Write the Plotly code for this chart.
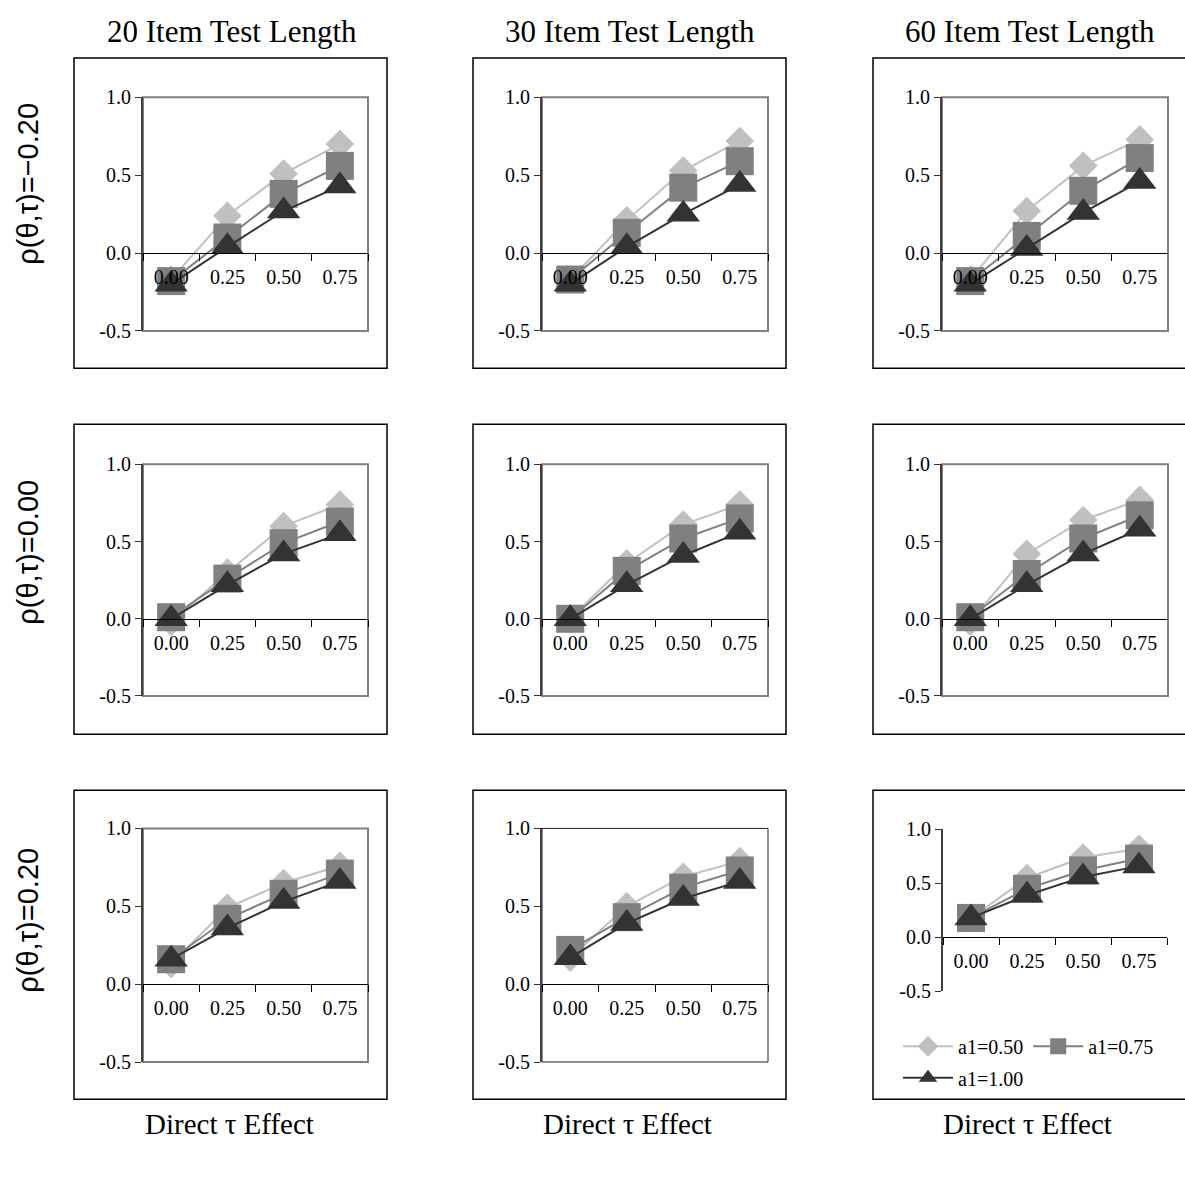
import plotly.graph_objects as go

# ---------------- data ----------------
CATEGORIES = ["0.00", "0.25", "0.50", "0.75"]
SERIES_NAMES = ["a1=0.50", "a1=0.75", "a1=1.00"]
COL_TITLES = ["20 Item Test Length", "30 Item Test Length", "60 Item Test Length"]
ROW_TITLES = ["ρ(θ,τ)=−0.20", "ρ(θ,τ)=0.00", "ρ(θ,τ)=0.20"]
X_TITLE = "Direct τ Effect"
Y_TICKVALS = [-0.5, 0.0, 0.5, 1.0]
Y_TICKTEXT = ["-0.5", "0.0", "0.5", "1.0"]

# row 1: rho = -0.20
r1c1_a050 = [-0.17, 0.24, 0.51, 0.70]
r1c1_a075 = [-0.18, 0.10, 0.38, 0.56]
r1c1_a100 = [-0.20, 0.04, 0.27, 0.43]
r1c2_a050 = [-0.17, 0.21, 0.53, 0.72]
r1c2_a075 = [-0.17, 0.13, 0.42, 0.59]
r1c2_a100 = [-0.20, 0.04, 0.25, 0.44]
r1c3_a050 = [-0.17, 0.27, 0.56, 0.73]
r1c3_a075 = [-0.18, 0.11, 0.40, 0.61]
r1c3_a100 = [-0.20, 0.03, 0.26, 0.46]
# row 2: rho = 0.00
r2c1_a050 = [-0.02, 0.30, 0.60, 0.74]
r2c1_a075 = [0.01, 0.26, 0.49, 0.63]
r2c1_a100 = [0.00, 0.22, 0.42, 0.55]
r2c2_a050 = [0.00, 0.36, 0.61, 0.74]
r2c2_a075 = [0.00, 0.31, 0.52, 0.65]
r2c2_a100 = [0.00, 0.22, 0.41, 0.56]
r2c3_a050 = [-0.02, 0.42, 0.64, 0.77]
r2c3_a075 = [0.01, 0.29, 0.52, 0.67]
r2c3_a100 = [0.00, 0.22, 0.42, 0.58]
# row 3: rho = 0.20
r3c1_a050 = [0.13, 0.49, 0.65, 0.76]
r3c1_a075 = [0.16, 0.42, 0.58, 0.71]
r3c1_a100 = [0.16, 0.36, 0.53, 0.66]
r3c2_a050 = [0.17, 0.50, 0.69, 0.79]
r3c2_a075 = [0.22, 0.43, 0.62, 0.73]
r3c2_a100 = [0.17, 0.39, 0.55, 0.66]
r3c3_a050 = [0.18, 0.55, 0.74, 0.82]
r3c3_a075 = [0.18, 0.45, 0.62, 0.73]
r3c3_a100 = [0.18, 0.39, 0.56, 0.66]

PANELS = [
    [[r1c1_a050, r1c1_a075, r1c1_a100], [r1c2_a050, r1c2_a075, r1c2_a100], [r1c3_a050, r1c3_a075, r1c3_a100]],
    [[r2c1_a050, r2c1_a075, r2c1_a100], [r2c2_a050, r2c2_a075, r2c2_a100], [r2c3_a050, r2c3_a075, r2c3_a100]],
    [[r3c1_a050, r3c1_a075, r3c1_a100], [r3c2_a050, r3c2_a075, r3c2_a100], [r3c3_a050, r3c3_a075, r3c3_a100]],
]

# ---------------- styling / layout ----------------
W, H = 1185, 1178
SERIF = "Liberation Serif, Times New Roman, serif"
SANS = "Liberation Sans, Arial, sans-serif"
COLORS = ["#C0C0C0", "#808080", "#333333"]
SYMBOLS = ["diamond", "square", "triangle-up"]
SIZES = [22, 28, 29]

PLOT_X = [(143, 368), (542, 768), (942, 1168)]
PLOT_Y = [(88, 326), (462, 698), (833, 1071)]
OUTER_X = [(74, 387), (473, 786), (873, 1192)]
OUTER_Y = [(48, 364), (421, 737), (794, 1109)]
SPECIAL_PLOT = {(2, 2): ((943, 1167), (834, 999))}
FRAME_STYLE = {(2, 1): ("#222222", 1)}


def fx(p):
    return p / W


def fy(p):
    return 1 - p / H


fig = go.Figure()
layout = dict(
    width=W, height=H, margin=dict(l=0, r=0, t=0, b=0),
    paper_bgcolor="white", plot_bgcolor="rgba(0,0,0,0)",
    showlegend=True, font=dict(family=SERIF, color="black", size=20),
)
shapes = []
annotations = []

for r in range(3):
    for c in range(3):
        k = r * 3 + c
        sfx = "" if k == 0 else str(k + 1)
        xa, ya = "x" + sfx, "y" + sfx
        (px0, px1), (py0, py1) = SPECIAL_PLOT.get((r, c), (PLOT_X[c], PLOT_Y[r]))
        dom_x = [fx(px0), fx(px1)]
        dom_y = [fy(py1), fy(py0)]
        zero_pos = dom_y[0] + (0 - (-0.5)) / 1.5 * (dom_y[1] - dom_y[0])

        for s in range(3):
            fig.add_trace(go.Scatter(
                x=CATEGORIES, y=PANELS[r][c][s], mode="lines+markers",
                name=SERIES_NAMES[s],
                line=dict(color=COLORS[s], width=2),
                marker=dict(symbol=SYMBOLS[s], size=SIZES[s], color=COLORS[s], line=dict(width=0)),
                xaxis=xa, yaxis=ya, cliponaxis=False,
                showlegend=(k == 8),
                legend="legend" if s < 2 else "legend2",
                hoverinfo="skip",
            ))

        layout["xaxis" + sfx] = dict(
            domain=dom_x, anchor="free", position=zero_pos, type="category",
            categoryorder="array", categoryarray=CATEGORIES,
            range=[-0.5, 3.5], tickson="boundaries", ticks="outside", ticklen=7,
            tickcolor="black", tickwidth=1, showline=True, linecolor="black", linewidth=1,
            showgrid=False, zeroline=False, ticklabelstandoff=6,
            tickfont=dict(family=SERIF, size=20, color="black"),
        )
        layout["yaxis" + sfx] = dict(
            domain=dom_y, anchor=xa, range=[-0.5, 1.0],
            tickvals=Y_TICKVALS, ticktext=Y_TICKTEXT,
            ticks="outside", ticklen=6, tickcolor="#333333", tickwidth=1,
            showline=True, linecolor="#404040", linewidth=2,
            showgrid=False, zeroline=False,
            tickfont=dict(family=SERIF, size=20, color="black"),
        )

        # outer chart box
        ox0, ox1 = OUTER_X[c]
        oy0, oy1 = OUTER_Y[r]
        shapes.append(dict(type="rect", xref="paper", yref="paper",
                           x0=fx(ox0), x1=fx(ox1), y0=fy(oy1), y1=fy(oy0),
                           line=dict(color="black", width=1.5), layer="below"))
        # plot area frame
        if (r, c) != (2, 2):
            fcol, fw = FRAME_STYLE.get((r, c), ("#808080", 2))
            shapes.append(dict(type="rect", xref=xa + " domain", yref=ya + " domain",
                               x0=0, x1=1, y0=0, y1=1,
                               line=dict(color=fcol, width=fw), layer="below"))

# column titles and bottom titles
COL_CENTERS = [232, 630, 1030]
for c in range(3):
    annotations.append(dict(text=COL_TITLES[c], x=fx(COL_CENTERS[c]), y=fy(21),
                            xref="paper", yref="paper", showarrow=False,
                            xanchor="center", yanchor="middle",
                            font=dict(family=SERIF, size=31, color="black")))
    annotations.append(dict(text=X_TITLE, x=fx(COL_CENTERS[c] - 3), y=fy(1134),
                            xref="paper", yref="paper", showarrow=False,
                            xanchor="center", yanchor="middle",
                            font=dict(family=SERIF, size=29, color="black")))

ROW_CENTERS = [176, 552, 927]
for r in range(3):
    annotations.append(dict(text=ROW_TITLES[r], x=fx(28), y=fy(ROW_CENTERS[r]),
                            xref="paper", yref="paper", showarrow=False,
                            xanchor="center", yanchor="middle", textangle=-90,
                            font=dict(family=SANS, size=29, color="black")))

layout["shapes"] = shapes
layout["annotations"] = annotations
layout["legend"] = dict(orientation="h", x=fx(898), y=fy(1055), xanchor="left", yanchor="middle",
                        bgcolor="rgba(0,0,0,0)", itemwidth=50, tracegroupgap=0,
                        font=dict(family=SERIF, size=20, color="black"))
layout["legend2"] = dict(orientation="h", x=fx(898), y=fy(1087), xanchor="left", yanchor="middle",
                         bgcolor="rgba(0,0,0,0)", itemwidth=50, tracegroupgap=0,
                         font=dict(family=SERIF, size=20, color="black"))

fig.update_layout(**layout)
fig.write_html("out.html")
